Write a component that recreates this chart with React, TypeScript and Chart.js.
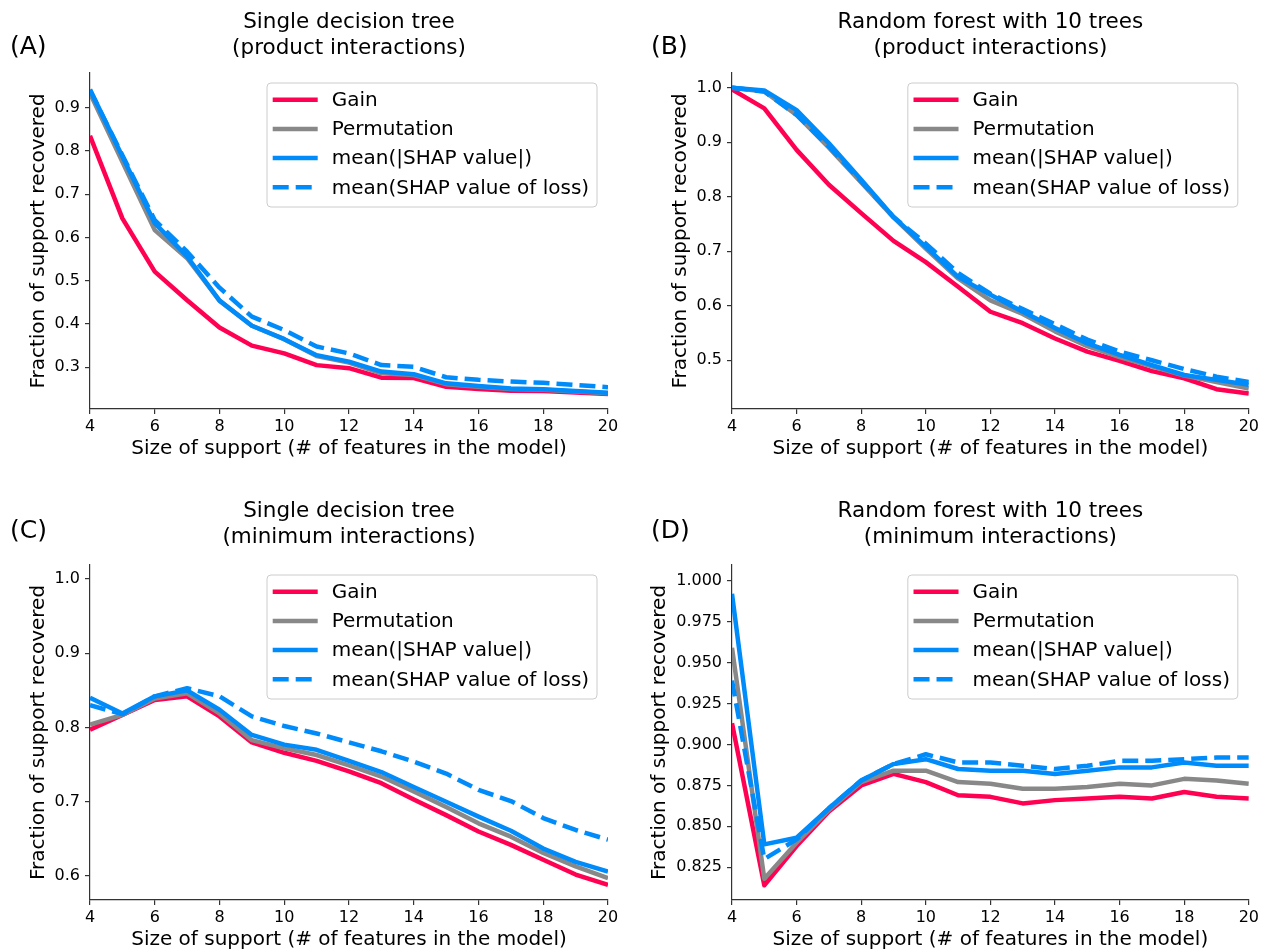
import React, { useEffect, useRef } from "react";
import { Chart, registerables } from "chart.js";

Chart.register(...registerables);

const FONT = '"DejaVu Sans", "Liberation Sans", sans-serif';

// ---------- data ----------
const SUPPORT_SIZES = [4, 5, 6, 7, 8, 9, 10, 11, 12, 13, 14, 15, 16, 17, 18, 19, 20];
const X_TICKS = [4, 6, 8, 10, 12, 14, 16, 18, 20];
const SERIES_NAMES = ["Gain", "Permutation", "mean(|SHAP value|)", "mean(SHAP value of loss)"];

// (A) Single decision tree, product interactions
const A_GAIN = [0.835, 0.644, 0.521, 0.455, 0.392, 0.350, 0.332, 0.305, 0.298, 0.276, 0.275, 0.255, 0.250, 0.246, 0.245, 0.242, 0.238];
const A_PERM = [0.933, 0.775, 0.617, 0.552, 0.454, 0.396, 0.365, 0.326, 0.311, 0.286, 0.282, 0.261, 0.255, 0.250, 0.248, 0.244, 0.240];
const A_SHAP = [0.942, 0.787, 0.633, 0.556, 0.454, 0.396, 0.365, 0.328, 0.313, 0.290, 0.284, 0.263, 0.257, 0.251, 0.249, 0.245, 0.241];
const A_LOSS = [0.940, 0.790, 0.640, 0.567, 0.484, 0.417, 0.386, 0.348, 0.332, 0.305, 0.301, 0.277, 0.271, 0.267, 0.264, 0.259, 0.254];
const A_Y_TICKS = [0.3, 0.4, 0.5, 0.6, 0.7, 0.8, 0.9];

// (B) Random forest, product interactions
const B_GAIN = [0.997, 0.962, 0.886, 0.822, 0.770, 0.719, 0.680, 0.635, 0.589, 0.568, 0.540, 0.516, 0.499, 0.480, 0.467, 0.447, 0.439];
const B_PERM = [1.0, 0.993, 0.950, 0.890, 0.826, 0.762, 0.705, 0.650, 0.610, 0.585, 0.553, 0.526, 0.506, 0.489, 0.472, 0.460, 0.448];
const B_SHAP = [1.0, 0.995, 0.959, 0.898, 0.831, 0.763, 0.708, 0.653, 0.620, 0.589, 0.559, 0.531, 0.510, 0.491, 0.473, 0.464, 0.455];
const B_LOSS = [1.0, 0.993, 0.950, 0.892, 0.828, 0.763, 0.714, 0.660, 0.622, 0.594, 0.566, 0.538, 0.516, 0.500, 0.484, 0.470, 0.460];
const B_Y_TICKS = [0.5, 0.6, 0.7, 0.8, 0.9, 1.0];

// (C) Single decision tree, minimum interactions
const C_GAIN = [0.797, 0.817, 0.837, 0.842, 0.815, 0.780, 0.766, 0.755, 0.741, 0.725, 0.703, 0.682, 0.660, 0.642, 0.622, 0.602, 0.588];
const C_PERM = [0.804, 0.817, 0.839, 0.846, 0.819, 0.783, 0.772, 0.763, 0.749, 0.734, 0.714, 0.693, 0.671, 0.653, 0.631, 0.613, 0.597];
const C_SHAP = [0.840, 0.819, 0.842, 0.850, 0.824, 0.790, 0.777, 0.770, 0.755, 0.740, 0.720, 0.700, 0.680, 0.661, 0.637, 0.619, 0.606];
const C_LOSS = [0.830, 0.818, 0.842, 0.853, 0.842, 0.815, 0.802, 0.792, 0.780, 0.768, 0.754, 0.738, 0.716, 0.701, 0.678, 0.662, 0.649];
const C_Y_TICKS = [0.6, 0.7, 0.8, 0.9, 1.0];

// (D) Random forest, minimum interactions
const D_GAIN = [0.913, 0.814, 0.838, 0.859, 0.875, 0.882, 0.877, 0.869, 0.868, 0.864, 0.866, 0.867, 0.868, 0.867, 0.871, 0.868, 0.867];
const D_PERM = [0.959, 0.818, 0.840, 0.860, 0.877, 0.884, 0.884, 0.877, 0.876, 0.873, 0.873, 0.874, 0.876, 0.875, 0.879, 0.878, 0.876];
const D_SHAP = [0.992, 0.839, 0.843, 0.861, 0.878, 0.888, 0.891, 0.885, 0.884, 0.884, 0.882, 0.884, 0.886, 0.886, 0.889, 0.887, 0.887];
const D_LOSS = [0.939, 0.830, 0.842, 0.861, 0.878, 0.888, 0.894, 0.889, 0.889, 0.887, 0.885, 0.887, 0.890, 0.890, 0.891, 0.892, 0.892];
const D_Y_TICKS = [0.825, 0.85, 0.875, 0.9, 0.925, 0.95, 0.975, 1.0];

// ---------- styles ----------
const COLORS = ["#ff0052", "#888888", "#008bfb", "#008bfb"];
const DASHES: number[][] = [[], [], [], [16, 7]];
const LINE_W = 4.5;
const TICK_SIZE = 16;

type PanelCfg = {
  letter: string;
  title: string[];
  series: number[][];
  yTicks: number[];
  yMin: number;
  yMax: number;
  decimals: number;
  canvasLeft: number;
  canvasTop: number;
  areaLeft: number;
  areaRight: number;
  areaTop: number;
  areaBottom: number;
  yTitleX: number;
  titleBaselines: number[];
  letterX: number;
  letterBaseline: number;
};

const CW = 631;
const CH = 476;

const PANELS: PanelCfg[] = [
  {
    letter: "(A)", title: ["Single decision tree", "(product interactions)"],
    series: [A_GAIN, A_PERM, A_SHAP, A_LOSS], yTicks: A_Y_TICKS, yMin: 0.2036, yMax: 0.980, decimals: 1,
    canvasLeft: 0, canvasTop: 0, areaLeft: 90, areaRight: 608, areaTop: 73, areaBottom: 409,
    yTitleX: 38.5, titleBaselines: [28, 54], letterX: 10, letterBaseline: 54,
  },
  {
    letter: "(B)", title: ["Random forest with 10 trees", "(product interactions)"],
    series: [B_GAIN, B_PERM, B_SHAP, B_LOSS], yTicks: B_Y_TICKS, yMin: 0.4106, yMax: 1.027, decimals: 1,
    canvasLeft: 631, canvasTop: 0, areaLeft: 732, areaRight: 1250, areaTop: 73, areaBottom: 409,
    yTitleX: 681, titleBaselines: [28, 54], letterX: 651, letterBaseline: 54,
  },
  {
    letter: "(C)", title: ["Single decision tree", "(minimum interactions)"],
    series: [C_GAIN, C_PERM, C_SHAP, C_LOSS], yTicks: C_Y_TICKS, yMin: 0.5677, yMax: 1.0189, decimals: 1,
    canvasLeft: 0, canvasTop: 476, areaLeft: 90, areaRight: 608, areaTop: 565, areaBottom: 900,
    yTitleX: 38.5, titleBaselines: [517, 543], letterX: 10, letterBaseline: 538,
  },
  {
    letter: "(D)", title: ["Random forest with 10 trees", "(minimum interactions)"],
    series: [D_GAIN, D_PERM, D_SHAP, D_LOSS], yTicks: D_Y_TICKS, yMin: 0.805, yMax: 1.0096, decimals: 3,
    canvasLeft: 631, canvasTop: 476, areaLeft: 732, areaRight: 1250, areaTop: 565, areaBottom: 900,
    yTitleX: 660, titleBaselines: [517, 543], letterX: 651, letterBaseline: 538,
  },
];

function decorPlugin(cfg: PanelCfg) {
  return {
    id: "decor",
    afterDraw(chart: any) {
      const ctx: CanvasRenderingContext2D = chart.ctx;
      const area = chart.chartArea;
      ctx.save();
      ctx.fillStyle = "#000";
      ctx.textAlign = "center";
      ctx.textBaseline = "alphabetic";
      ctx.font = `21.5px ${FONT}`;
      const cx = (area.left + area.right) / 2;
      cfg.title.forEach((t, i) => ctx.fillText(t, cx, cfg.titleBaselines[i] - cfg.canvasTop));
      ctx.textAlign = "left";
      ctx.font = `25px ${FONT}`;
      ctx.fillText(cfg.letter, cfg.letterX - cfg.canvasLeft, cfg.letterBaseline - cfg.canvasTop);

      // legend
      const bw = 330;
      const bh = 124;
      const bx = area.right - 11 - bw;
      const by = area.top + 10;
      ctx.beginPath();
      const r = 4;
      ctx.moveTo(bx + r, by);
      ctx.lineTo(bx + bw - r, by);
      ctx.arcTo(bx + bw, by, bx + bw, by + r, r);
      ctx.lineTo(bx + bw, by + bh - r);
      ctx.arcTo(bx + bw, by + bh, bx + bw - r, by + bh, r);
      ctx.lineTo(bx + r, by + bh);
      ctx.arcTo(bx, by + bh, bx, by + bh - r, r);
      ctx.lineTo(bx, by + r);
      ctx.arcTo(bx, by, bx + r, by, r);
      ctx.closePath();
      ctx.fillStyle = "rgba(255,255,255,0.8)";
      ctx.fill();
      ctx.strokeStyle = "#cccccc";
      ctx.lineWidth = 1;
      ctx.stroke();

      ctx.font = `20px ${FONT}`;
      ctx.textBaseline = "middle";
      SERIES_NAMES.forEach((name, i) => {
        const y = by + 16.7 + i * 29.2;
        ctx.beginPath();
        ctx.setLineDash(DASHES[i]);
        ctx.strokeStyle = COLORS[i];
        ctx.lineWidth = LINE_W;
        ctx.lineCap = "butt";
        ctx.moveTo(bx + 5.7, y);
        ctx.lineTo(bx + 50.7, y);
        ctx.stroke();
        ctx.setLineDash([]);
        ctx.fillStyle = "#000";
        ctx.fillText(name, bx + 64.7, y + 1);
      });
      ctx.restore();
    },
  };
}

function Panel({ cfg }: { cfg: PanelCfg }) {
  const ref = useRef<HTMLCanvasElement>(null);

  useEffect(() => {
    const canvas = ref.current;
    if (!canvas) return;
    const left = cfg.areaLeft - cfg.canvasLeft;
    const right = cfg.areaRight - cfg.canvasLeft;
    const top = cfg.areaTop - cfg.canvasTop;
    const bottom = cfg.areaBottom - cfg.canvasTop;
    const yTitleLh = 24;
    const padLeft = cfg.yTitleX - cfg.canvasLeft - yTitleLh / 2;
    const yWidth = left - padLeft;
    const xHeight = 52;
    const padBottom = CH - bottom - xHeight;

    const datasets = cfg.series.map((vals, i) => ({
      label: SERIES_NAMES[i],
      data: SUPPORT_SIZES.map((x, j) => ({ x, y: vals[j] })),
      borderColor: COLORS[i],
      backgroundColor: COLORS[i],
      borderWidth: LINE_W,
      borderDash: DASHES[i],
      borderJoinStyle: "round" as const,
      borderCapStyle: "butt" as const,
      pointRadius: 0,
      tension: 0,
      fill: false,
      order: 3 - i,
    }));

    const axisColor = "#333333";
    const chart = new Chart(canvas, {
      type: "line",
      data: { datasets },
      options: {
        animation: false,
        responsive: false,
        devicePixelRatio: 1,
        events: [],
        layout: { padding: { left: padLeft, right: CW - right, top, bottom: padBottom } },
        plugins: { legend: { display: false }, tooltip: { enabled: false }, title: { display: false } },
        scales: {
          x: {
            type: "linear",
            min: 4,
            max: 20,
            afterBuildTicks: (s: any) => { s.ticks = X_TICKS.map((v) => ({ value: v })); },
            afterFit: (s: any) => { s.height = xHeight; },
            ticks: { font: { family: FONT, size: TICK_SIZE }, color: "#000", padding: 3, maxRotation: 0 },
            grid: { display: true, drawOnChartArea: false, drawTicks: true, tickLength: 5, color: axisColor, lineWidth: 1.2 },
            border: { display: true, color: axisColor, width: 1.2 },
            title: {
              display: true,
              text: "Size of support (# of features in the model)",
              font: { family: FONT, size: 20 },
              color: "#000",
              padding: { top: 0, bottom: 0 },
            },
          },
          y: {
            type: "linear",
            min: cfg.yMin,
            max: cfg.yMax,
            afterBuildTicks: (s: any) => { s.ticks = cfg.yTicks.map((v) => ({ value: v })); },
            afterFit: (s: any) => { s.width = yWidth; },
            ticks: {
              font: { family: FONT, size: TICK_SIZE },
              color: "#000",
              padding: 5,
              callback: (v: any) => Number(v).toFixed(cfg.decimals),
            },
            grid: { display: true, drawOnChartArea: false, drawTicks: true, tickLength: 5, color: axisColor, lineWidth: 1.2 },
            border: { display: true, color: axisColor, width: 1.2 },
            title: {
              display: true,
              text: "Fraction of support recovered",
              font: { family: FONT, size: 20 },
              color: "#000",
              padding: { top: 0, bottom: 0 },
            },
          },
        },
      },
      plugins: [decorPlugin(cfg)],
    } as any);
    return () => chart.destroy();
  }, [cfg]);

  return (
    <canvas
      ref={ref}
      width={CW}
      height={CH}
      style={{ position: "absolute", left: cfg.canvasLeft, top: cfg.canvasTop, width: CW, height: CH }}
    />
  );
}

export default function App() {
  return (
    <div style={{ position: "absolute", left: 0, top: 0, width: 1262, height: 952, background: "#fff", overflow: "hidden" }}>
      {PANELS.map((p) => (
        <Panel key={p.letter} cfg={p} />
      ))}
    </div>
  );
}
